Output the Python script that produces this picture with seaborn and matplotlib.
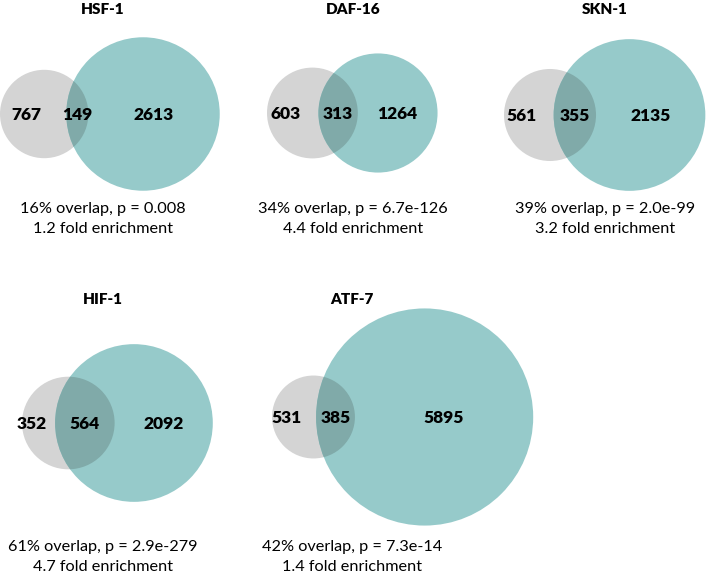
import numpy as np
import matplotlib
matplotlib.use("Agg")
import matplotlib.pyplot as plt
from matplotlib.patches import Circle
import seaborn as sns

# ---- data ----
factors = ["HSF-1", "DAF-16", "SKN-1", "HIF-1", "ATF-7"]
only_left = [767, 603, 561, 352, 531]
shared = [149, 313, 355, 564, 385]
only_right = [2613, 1264, 2135, 2092, 5895]
overlap_pct = [16, 34, 39, 61, 42]
p_values = ["0.008", "6.7e-126", "2.0e-99", "2.9e-279", "7.3e-14"]
fold_enrich = [1.2, 4.4, 3.2, 4.7, 1.4]

# ---- layout (pixel units) ----
grey_left = [0, 267, 504, 22, 272]
center_y = [114, 113, 115, 423, 417]
scale = [1.46, 1.50, 1.52, 1.53, 1.37]
text_x = [103, 353, 605, 103, 352]
title_y = [10, 10, 10, 299, 299]
caption_y = [209, 209, 209, 547, 547]

GREY = "#d4d4d4"
TEAL = "#96caca"
OVERLAP = "#80aaa9"

sns.set_theme(style="white")
plt.rcParams["font.family"] = ["Lato", "DejaVu Sans"]


def lens_area(r1, r2, d):
    if d >= r1 + r2:
        return 0.0
    if d <= abs(r1 - r2):
        return np.pi * min(r1, r2) ** 2
    a1 = r1 ** 2 * np.arccos((d ** 2 + r1 ** 2 - r2 ** 2) / (2 * d * r1))
    a2 = r2 ** 2 * np.arccos((d ** 2 + r2 ** 2 - r1 ** 2) / (2 * d * r2))
    a3 = 0.5 * np.sqrt((-d + r1 + r2) * (d + r1 - r2) * (d - r1 + r2) * (d + r1 + r2))
    return a1 + a2 - a3


def solve_distance(r1, r2, target):
    lo, hi = abs(r1 - r2), r1 + r2
    for _ in range(80):
        mid = 0.5 * (lo + hi)
        if lens_area(r1, r2, mid) > target:
            lo = mid
        else:
            hi = mid
    return 0.5 * (lo + hi)


fig = plt.figure(figsize=(7.06, 5.81), dpi=100)
ax = fig.add_axes([0, 0, 1, 1])
ax.set_xlim(0, 706)
ax.set_ylim(581, 0)
ax.set_aspect("equal")
ax.axis("off")

for i, name in enumerate(factors):
    n_left = only_left[i] + shared[i]
    n_right = only_right[i] + shared[i]
    k = scale[i]
    rg = k * np.sqrt(n_left)
    rt = k * np.sqrt(n_right)
    d = solve_distance(rg, rt, shared[i] / n_left * np.pi * rg ** 2)
    gx = grey_left[i] + rg
    tx = gx + d
    cy = center_y[i]

    grey = Circle((gx, cy), rg, fc=GREY, ec="none", zorder=1)
    teal = Circle((tx, cy), rt, fc=TEAL, ec="none", zorder=2)
    ov = Circle((gx, cy), rg, fc=OVERLAP, ec="none", zorder=3)
    ax.add_patch(grey)
    ax.add_patch(teal)
    ax.add_patch(ov)
    ov.set_clip_path(teal)

    g_l, g_r = gx - rg, gx + rg
    t_l, t_r = tx - rt, tx + rt
    num_kw = dict(fontsize=12.5, fontweight="heavy", ha="center", va="center",
                  color="black", zorder=5)
    ax.text((g_l + t_l) / 2 - 7, cy + 1, f"{only_left[i]}", **num_kw)
    ax.text((t_l + g_r) / 2, cy + 1, f"{shared[i]}", **num_kw)
    ax.text((g_r + t_r) / 2, cy + 1, f"{only_right[i]}", **num_kw)

    ax.text(text_x[i], title_y[i], name, fontsize=11, fontweight="heavy",
            ha="center", va="center", color="black")
    ax.text(text_x[i], caption_y[i],
            f"{overlap_pct[i]}% overlap, p = {p_values[i]}",
            fontsize=11.7, ha="center", va="center", color="black")
    ax.text(text_x[i], caption_y[i] + 20, f"{fold_enrich[i]} fold enrichment",
            fontsize=11.7, ha="center", va="center", color="black")

fig.savefig("out.png", dpi=100)
